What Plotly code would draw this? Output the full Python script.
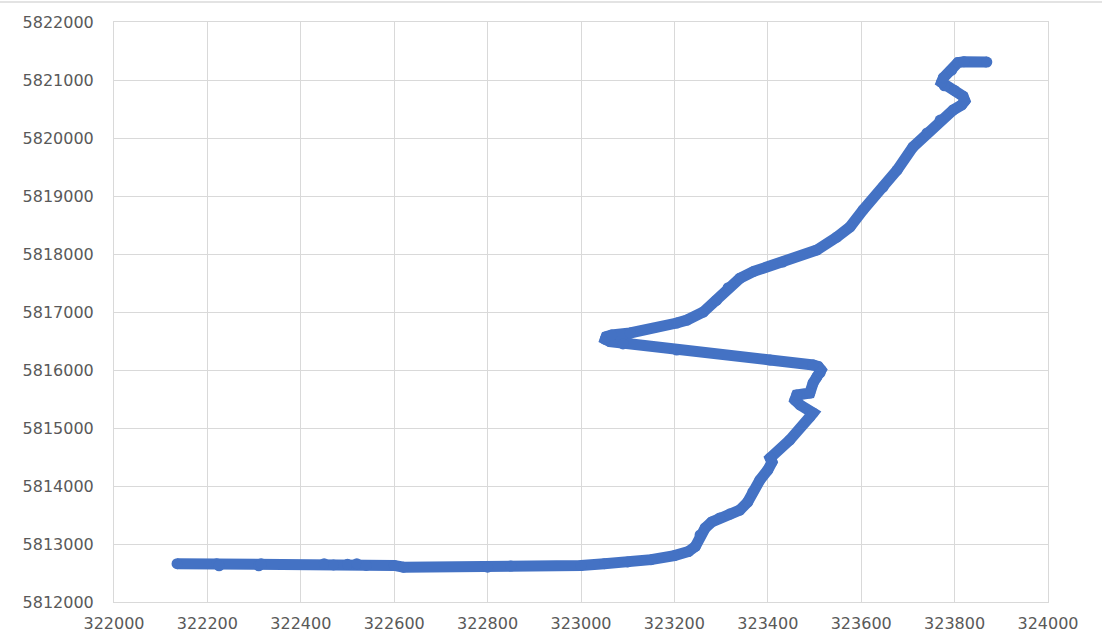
import plotly.graph_objects as go

# Easting / northing of the surveyed track, in path order
easting = [
    322135, 322220, 322225, 322310, 322315, 322450, 322470, 322500, 322520,
    322540, 322600, 322620, 322800, 322850, 323000, 323050, 323100, 323150,
    323200, 323230, 323245, 323255, 323266, 323280, 323297, 323319, 323340,
    323357, 323368, 323383, 323400, 323409, 323405, 323447, 323490, 323497,
    323469, 323458, 323462, 323490, 323497, 323505, 323512, 323514, 323508,
    323497, 323405, 323205, 323090, 323062, 323052, 323054, 323066, 323105,
    323205, 323227, 323262, 323290, 323315, 323340, 323370, 323432, 323505,
    323548, 323576, 323604, 323647, 323677, 323711, 323741, 323769, 323797,
    323815, 323822, 323818, 323800, 323778, 323772, 323776, 323794, 323807,
    323820, 323869,
]
northing = [
    5812660, 5812660, 5812625, 5812625, 5812660, 5812660, 5812640, 5812650, 5812660,
    5812630, 5812630, 5812600, 5812600, 5812620, 5812630, 5812660, 5812690, 5812730,
    5812800, 5812870, 5812960, 5813155, 5813276, 5813380, 5813449, 5813517, 5813586,
    5813724, 5813897, 5814103, 5814276, 5814414, 5814483, 5814793, 5815190, 5815259,
    5815397, 5815483, 5815569, 5815603, 5815776, 5815879, 5815950, 5816000, 5816060,
    5816086, 5816172, 5816345, 5816450, 5816490, 5816530, 5816575, 5816605, 5816638,
    5816810, 5816862, 5817000, 5817200, 5817420, 5817580, 5817700, 5817862, 5818069,
    5818293, 5818466, 5818759, 5819155, 5819448, 5819845, 5820086, 5820310, 5820483,
    5820570, 5820640, 5820720, 5820820, 5820900, 5820960, 5821040, 5821172, 5821300,
    5821315, 5821310,
]

x_ticks = list(range(322000, 324001, 200))
y_ticks = list(range(5812000, 5822001, 1000))

BLUE = "#4472C4"
GRID = "#d9d9d9"
TEXT = "#595959"

fig = go.Figure(
    go.Scatter(
        x=easting,
        y=northing,
        mode="lines+markers",
        line=dict(color=BLUE, width=11),
        marker=dict(color=BLUE, size=11),
        hoverinfo="x+y",
        showlegend=False,
    )
)

axis_common = dict(
    showgrid=True,
    gridcolor=GRID,
    gridwidth=1,
    showline=True,
    mirror=True,
    linecolor=GRID,
    linewidth=1,
    zeroline=False,
    automargin=False,
    tickfont=dict(family="DejaVu Sans", size=16, color=TEXT),
    ticks="",
)

fig.update_xaxes(
    range=[322000, 324000],
    tickvals=x_ticks,
    ticktext=[str(v) for v in x_ticks],
    ticklabelstandoff=7,
    **axis_common,
)
fig.update_yaxes(
    range=[5812000, 5822000],
    tickvals=y_ticks,
    ticktext=[str(v) for v in y_ticks],
    ticklabelstandoff=16,
    **axis_common,
)

# thin rule along the top edge of the page
fig.add_shape(
    type="line",
    xref="paper", yref="paper",
    x0=-114 / 934, x1=(1102 - 114) / 934,
    y0=1 + 20 / 580, y1=1 + 20 / 580,
    line=dict(color="#e3e3e3", width=2),
)

fig.update_layout(
    width=1102,
    height=635,
    margin=dict(l=114, r=54, t=22, b=33),
    paper_bgcolor="white",
    plot_bgcolor="white",
)

fig.write_html("out.html")
